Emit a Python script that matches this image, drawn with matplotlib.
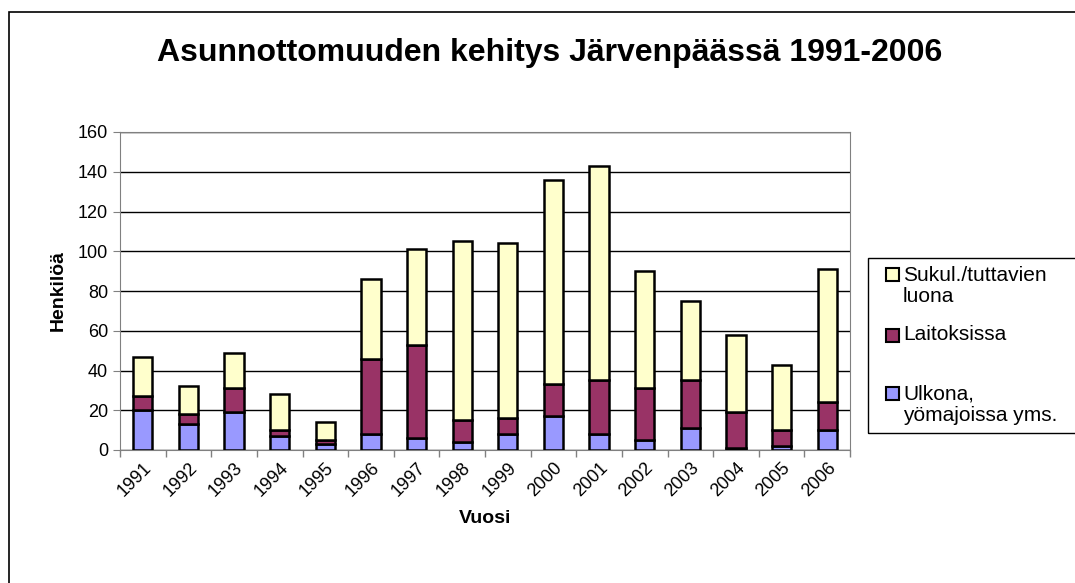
import matplotlib.pyplot as plt
import numpy as np

plt.rcParams['font.family'] = ['Liberation Sans', 'DejaVu Sans']

years = ['1991', '1992', '1993', '1994', '1995', '1996', '1997', '1998',
         '1999', '2000', '2001', '2002', '2003', '2004', '2005', '2006']
ulkona = [20, 13, 19, 7, 3, 8, 6, 4, 8, 17, 8, 5, 11, 1, 2, 10]
laitoksissa = [7, 5, 12, 3, 2, 38, 47, 11, 8, 16, 27, 26, 24, 18, 8, 14]
sukul = [20, 14, 18, 18, 9, 40, 48, 90, 88, 103, 108, 59, 40, 39, 33, 67]
labels = ['Sukul./tuttavien\nluona', 'Laitoksissa', 'Ulkona,\nyömajoissa yms.']
colors = ['#FFFFCC', '#993366', '#9999FF']

W, H = 1075, 583
x = np.arange(len(years))
fig = plt.figure(figsize=(10.75, 5.83), dpi=100)
ax = fig.add_axes([120 / W, 1 - 450 / H, 730 / W, 318 / H])

w = 0.42
kw = dict(width=w, edgecolor='black', linewidth=1.8, zorder=3)
ax.bar(x, ulkona, color=colors[2], **kw)
ax.bar(x, laitoksissa, bottom=ulkona, color=colors[1], **kw)
bot = np.array(ulkona) + np.array(laitoksissa)
ax.bar(x, sukul, bottom=bot, color=colors[0], **kw)

ax.set_xlim(-0.5, len(years) - 0.5)
ax.set_ylim(0, 160)
ax.set_yticks(range(0, 161, 20))
ax.yaxis.grid(True, color='black', linewidth=1, zorder=0)
ax.set_axisbelow(True)
ax.set_xticks(x)
ax.set_xticklabels(years, rotation=45, ha='right', rotation_mode='anchor', fontsize=13)
ax.set_xticks(np.arange(-0.5, len(years), 1), minor=True)
ax.tick_params(axis='x', which='major', length=0, pad=7)
ax.tick_params(axis='x', which='minor', length=5, width=1, color='#808080')
ax.tick_params(axis='y', labelsize=13, length=5, color='#808080')
for s in ['top', 'right', 'left', 'bottom']:
    ax.spines[s].set_color('#808080')

ax.set_xlabel('Vuosi', fontsize=14, fontweight='bold', labelpad=7)
ax.set_ylabel('Henkilöä', fontsize=14, fontweight='bold', labelpad=8)

fig.text(0.511, 1 - 53 / H, 'Asunnottomuuden kehitys Järvenpäässä 1991-2006',
         ha='center', va='center', fontsize=23, fontweight='bold')

# legend, laid out like the Excel one (box runs off the right edge)
fig.patches.append(plt.Rectangle((868 / W, 1 - 433 / H), 0.2, 175 / H,
                                 transform=fig.transFigure, fill=False,
                                 edgecolor='black', linewidth=1))
text_y = [286, 335, 405]
box_y = [275, 335, 393]
for lab, c, ty, by in zip(labels, colors, text_y, box_y):
    fig.patches.append(plt.Rectangle((886 / W, 1 - (by + 6.5) / H), 13 / W, 13 / H,
                                     transform=fig.transFigure, facecolor=c,
                                     edgecolor='black', linewidth=1.5))
    fig.text(903 / W, 1 - ty / H, lab, ha='left', va='center', fontsize=15,
             linespacing=1.15)

# outer chart frame (right and bottom edges fall outside the image)
fig.patches.append(plt.Rectangle((9 / W, -0.05), 1.1, (H - 12) / H + 0.05,
                                 transform=fig.transFigure, fill=False,
                                 edgecolor='black', linewidth=1.2))

fig.savefig('out.png', dpi=100)
